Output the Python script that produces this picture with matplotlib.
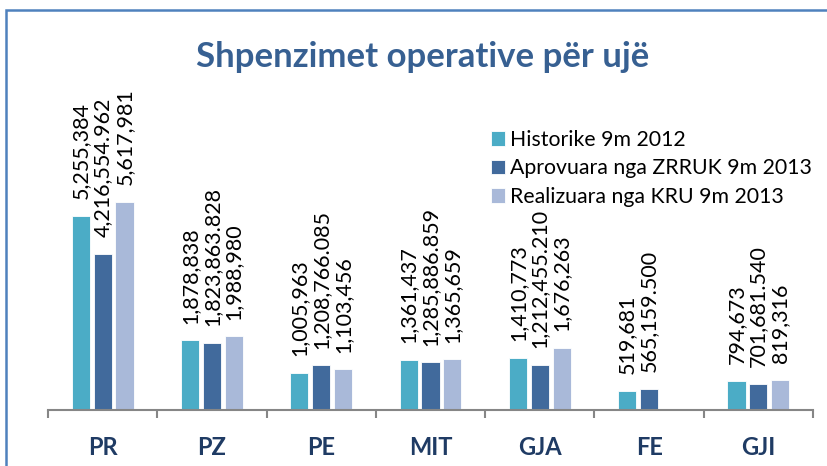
import numpy as np
import matplotlib
matplotlib.use("Agg")
import matplotlib.pyplot as plt
from matplotlib.patches import Rectangle

plt.rcParams['font.family'] = ['Lato', 'DejaVu Sans']

categories = ["PR", "PZ", "PE", "MIT", "GJA", "FE", "GJI"]
series_names = ["Historike 9m 2012", "Aprovuara nga ZRRUK 9m 2013", "Realizuara nga KRU 9m 2013"]
historike = [5255384, 1878838, 1005963, 1361437, 1410773, 519681, 794673]
aprovuara = [4216554.962, 1823863.828, 1208766.085, 1285886.859, 1212455.210, 565159.500, 701681.540]
realizuara = [5617981, 1988980, 1103456, 1365659, 1676263, np.nan, 819316]
colors = ["#4BACC6", "#416A9C", "#A9B9D9"]
label_fmt = ["{:,.0f}", "{:,.3f}", "{:,.0f}"]

fig = plt.figure(figsize=(8.27, 4.66), dpi=100)
W, H = 827, 466
ax = fig.add_axes([48 / W, (H - 410) / H, (813 - 48) / W, 259 / H])

x = np.arange(len(categories))
width = 0.165
pitch = 0.2
for i, (vals, c, fmt) in enumerate(zip([historike, aprovuara, realizuara], colors, label_fmt)):
    xs = x + (i - 1) * pitch
    ax.bar(xs, vals, width, color=c, edgecolor="white", linewidth=0.6, label=series_names[i])
    for xi, v in zip(xs, vals):
        if np.isnan(v):
            continue
        ax.annotate(fmt.format(v), (xi, v), xytext=(0, 12), textcoords="offset points",
                    rotation=90, ha="center", va="bottom", fontsize=15.5, color="black",
                    annotation_clip=False)

ax.set_xlim(-0.5, len(categories) - 0.5)
ax.set_ylim(0, 7000000)
ax.set_yticks([])
for s in ["left", "right", "top"]:
    ax.spines[s].set_visible(False)
ax.spines["bottom"].set_color("#868686")
ax.spines["bottom"].set_linewidth(1.5)

ax.set_xticks(x)
ax.set_xticklabels(categories, fontsize=17, fontweight="bold", color="#1F3B64")
ax.tick_params(axis="x", which="major", length=0, pad=19)
ax.set_xticks(np.arange(-0.5, len(categories), 1), minor=True)
ax.tick_params(axis="x", which="minor", length=6, width=1.5, color="#868686", direction="out")

fig.text(423 / W, 1 - 57 / H, "Shpenzimet operative për ujë", ha="center", va="center",
         fontsize=25, fontweight="bold", color="#376092")

ax.legend(loc="upper left", bbox_to_anchor=(491 / W, 1 - 130 / H), bbox_transform=fig.transFigure,
          frameon=False, fontsize=15.3, handlelength=0.65, handleheight=0.65, handletextpad=0.25,
          labelspacing=0.4, borderpad=0, borderaxespad=0)

fig.add_artist(Rectangle((6 / W, -0.1), 1.2, 1 - 10 / H + 0.1, transform=fig.transFigure,
                         fill=False, edgecolor="#4F81BD", linewidth=1.8, clip_on=False))

fig.savefig("out.png", dpi=100)
